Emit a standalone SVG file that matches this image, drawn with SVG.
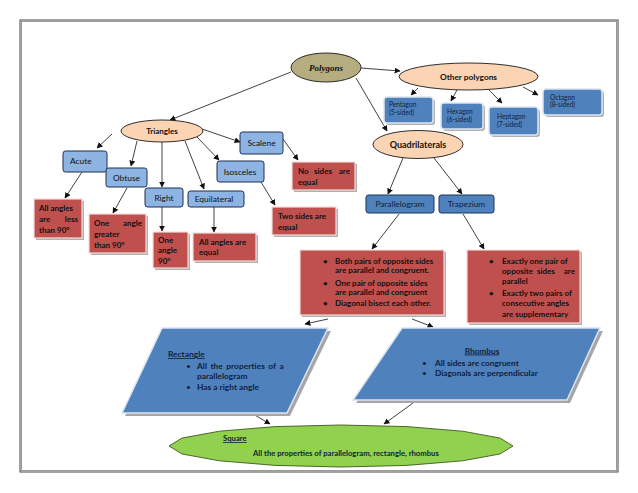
<svg xmlns="http://www.w3.org/2000/svg" width="638" height="493" viewBox="0 0 638 493">
<style>
.t{font-family:Lato,"Liberation Sans",sans-serif;fill:#111}
.b{font-weight:bold}
.lb{fill:#8db4e2;stroke:#1f2f4f;stroke-width:1}
.db{fill:#4f81bd;stroke:#17365d;stroke-width:1}
.pb{fill:#4f81bd;stroke:#dbe5f1;stroke-width:1.5}
.red{fill:#c0504d;stroke:#f2dcdb;stroke-width:1.2}
.sh{fill:#b0b0b0}
.peach{fill:#fbd4b4;stroke:#1a1a1a;stroke-width:0.9}
.sm{fill:#0f1f3a;font-size:6.6px}
.cn line{stroke:#111;stroke-width:0.8;marker-end:url(#ah)}
</style>
<defs>
<marker id="ah" viewBox="0 0 10 10" refX="9" refY="5" markerWidth="6" markerHeight="6" markerUnits="userSpaceOnUse" orient="auto">
<path d="M0,0 L10,5 L0,10 z" fill="#111"/>
</marker>
</defs>
<rect width="638" height="493" fill="#fff"/>
<rect x="20" y="20" width="598" height="452" fill="none" stroke="#444" stroke-width="1"/>
<rect x="21.5" y="21.5" width="595" height="449" fill="none" stroke="#999" stroke-width="1"/>

<g class="cn">
<line x1="361" y1="68" x2="400" y2="71"/>
<line x1="356" y1="78" x2="387" y2="131"/>
<line x1="291" y1="72" x2="170" y2="120"/>
<line x1="418" y1="88" x2="411" y2="95"/>
<line x1="457" y1="90" x2="451" y2="101"/>
<line x1="489" y1="90" x2="502" y2="103"/>
<line x1="523" y1="87" x2="538" y2="95"/>
<line x1="112" y1="134" x2="97" y2="148"/>
<line x1="137" y1="141" x2="131" y2="166"/>
<line x1="162" y1="142" x2="162" y2="187"/>
<line x1="185" y1="141" x2="204" y2="189"/>
<line x1="197" y1="137" x2="219" y2="160"/>
<line x1="202" y1="129" x2="240" y2="142"/>
<line x1="82" y1="172" x2="65" y2="198"/>
<line x1="127" y1="188" x2="113" y2="213"/>
<line x1="162" y1="207" x2="162" y2="231"/>
<line x1="214" y1="207" x2="214" y2="232"/>
<line x1="261" y1="182" x2="275" y2="205"/>
<line x1="283" y1="139" x2="298" y2="160"/>
<line x1="403" y1="158" x2="388" y2="194"/>
<line x1="434" y1="158" x2="462" y2="194"/>
<line x1="399" y1="214" x2="372" y2="249"/>
<line x1="463" y1="214" x2="484" y2="249"/>
<line x1="328" y1="319" x2="305" y2="324"/>
<line x1="412" y1="319" x2="433" y2="327"/>
<line x1="253" y1="414" x2="270" y2="424"/>
<line x1="413" y1="403" x2="384" y2="424"/>
</g>

<g id="polygons">
<ellipse cx="326" cy="67.5" rx="35" ry="14.5" fill="#b5ad7f" stroke="#1a1a1a" stroke-width="0.9"/>
<text x="326" y="70.5" text-anchor="middle" font-family="'Liberation Serif',serif" font-weight="bold" font-style="italic" font-size="9" fill="#111">Polygons</text>
</g>

<g id="other">
<ellipse class="peach" cx="468.5" cy="76.5" rx="69.5" ry="13.5"/>
<text class="t b" x="468.5" y="79.5" text-anchor="middle" font-size="8.3">Other polygons</text>
</g>

<g id="pentagon">
<rect class="sh" x="386" y="99" width="49" height="26" rx="3"/>
<rect class="pb" x="384" y="97" width="49" height="26" rx="3"/>
<text class="t sm" x="389" y="107">Pentagon<tspan x="389" dy="7.5">(5-sided)</tspan></text>
</g>
<g id="hexagon">
<rect class="sh" x="443" y="105" width="42" height="26" rx="3"/>
<rect class="pb" x="441" y="103" width="42" height="26" rx="3"/>
<text class="t sm" x="447" y="114">Hexagon<tspan x="447" dy="7.5">(6-sided)</tspan></text>
</g>
<g id="heptagon">
<rect class="sh" x="491" y="109" width="49" height="28" rx="3"/>
<rect class="pb" x="489" y="107" width="49" height="28" rx="3"/>
<text class="t sm" x="497" y="119">Heptagon<tspan x="497" dy="7.5">(7-sided)</tspan></text>
</g>
<g id="octagon">
<rect class="sh" x="545" y="91" width="59" height="26" rx="3"/>
<rect class="pb" x="543" y="89" width="59" height="26" rx="3"/>
<text class="t sm" x="550" y="100">Octagon<tspan x="550" dy="7">(8-sided)</tspan></text>
</g>

<g id="quadrilaterals">
<ellipse class="peach" cx="418" cy="144.5" rx="45" ry="14"/>
<text class="t b" x="418" y="147.5" text-anchor="middle" font-size="9">Quadrilaterals</text>
</g>

<g id="triangles">
<ellipse class="peach" cx="162" cy="131" rx="41" ry="11"/>
<text class="t b" x="162" y="134" text-anchor="middle" font-size="8">Triangles</text>
</g>

<g id="scalene">
<rect class="lb" x="240" y="132" width="43" height="22" rx="2.5"/>
<text class="t" x="261.5" y="146" text-anchor="middle" font-size="8.4">Scalene</text>
</g>
<g id="acute">
<rect class="lb" x="63" y="151" width="44" height="21" rx="2.5"/>
<text class="t" x="70" y="163.5" font-size="8.4">Acute</text>
</g>
<g id="obtuse">
<rect class="lb" x="106" y="168" width="41" height="19" rx="2.5"/>
<text class="t" x="126.5" y="180.5" text-anchor="middle" font-size="8.4">Obtuse</text>
</g>
<g id="right">
<rect class="lb" x="145" y="188" width="38" height="19" rx="2.5"/>
<text class="t" x="164" y="200.5" text-anchor="middle" font-size="8.4">Right</text>
</g>
<g id="equilateral">
<rect class="lb" x="188" y="191" width="56" height="16" rx="2.5"/>
<text class="t" x="214" y="202" text-anchor="middle" font-size="8.4">Equilateral</text>
</g>
<g id="isosceles">
<rect class="lb" x="217" y="161" width="47" height="21" rx="2.5"/>
<text class="t" x="240" y="174.5" text-anchor="middle" font-size="8.4">Isosceles</text>
</g>

<g id="acute-desc">
<rect class="sh" x="36" y="201" width="48" height="39"/>
<rect class="red" x="34" y="199" width="48" height="39"/>
<text class="t b" font-size="8"><tspan x="39" y="210.5">All angles</tspan><tspan x="39" y="221.5">are</tspan><tspan x="78" y="221.5" text-anchor="end">less</tspan><tspan x="39" y="232.5">than 90°</tspan></text>
</g>
<g id="obtuse-desc">
<rect class="sh" x="91" y="216" width="57" height="39"/>
<rect class="red" x="89" y="214" width="57" height="39"/>
<text class="t b" font-size="8"><tspan x="94" y="225.5">One</tspan><tspan x="142" y="225.5" text-anchor="end">angle</tspan><tspan x="94" y="236.5">greater</tspan><tspan x="94" y="247.5">than 90°</tspan></text>
</g>
<g id="right-desc">
<rect class="sh" x="155" y="234" width="35" height="36"/>
<rect class="red" x="153" y="232" width="35" height="36"/>
<text class="t b" font-size="8"><tspan x="158" y="242.5">One</tspan><tspan x="158" y="253">angle</tspan><tspan x="158" y="263.5">90°</tspan></text>
</g>
<g id="equilateral-desc">
<rect class="sh" x="195" y="235" width="63" height="28"/>
<rect class="red" x="193" y="233" width="63" height="28"/>
<text class="t b" font-size="8"><tspan x="199" y="244.5">All angles are</tspan><tspan x="199" y="255">equal</tspan></text>
</g>
<g id="isosceles-desc">
<rect class="sh" x="274" y="209" width="64" height="28"/>
<rect class="red" x="272" y="207" width="64" height="28"/>
<text class="t b" font-size="8"><tspan x="278" y="219">Two sides are</tspan><tspan x="278" y="229.5">equal</tspan></text>
</g>
<g id="scalene-desc">
<rect class="sh" x="294" y="164" width="63" height="28"/>
<rect class="red" x="292" y="162" width="63" height="28"/>
<text class="t b" font-size="8"><tspan x="298" y="173.5">No</tspan><tspan x="323" y="173.5" text-anchor="middle">sides</tspan><tspan x="350" y="173.5" text-anchor="end">are</tspan><tspan x="298" y="184.5">equal</tspan></text>
</g>

<g id="parallelogram">
<rect class="db" x="366" y="195" width="68" height="18" rx="2.5"/>
<text class="t" x="400" y="207" text-anchor="middle" font-size="8.3" style="fill:#0f1f3a">Parallelogram</text>
</g>
<g id="trapezium">
<rect class="db" x="439" y="195" width="55" height="18" rx="2.5"/>
<text class="t" x="466.5" y="207" text-anchor="middle" font-size="8.3" style="fill:#0f1f3a">Trapezium</text>
</g>

<g id="parallelogram-desc">
<rect class="sh" x="302" y="252" width="144" height="65"/>
<rect class="red" x="300" y="250" width="144" height="65"/>
<g class="t b" font-size="8">
<text x="323" y="263.5">•</text><text x="335" y="263.5">Both pairs of opposite sides</text>
<text x="335" y="273">are parallel and congruent.</text>
<text x="323" y="285.5">•</text><text x="335" y="285.5">One pair of opposite sides</text>
<text x="335" y="295">are parallel and congruent</text>
<text x="323" y="306">•</text><text x="335" y="306">Diagonal bisect each other.</text>
</g>
</g>
<g id="trapezium-desc">
<rect class="sh" x="469" y="252" width="113" height="73"/>
<rect class="red" x="467" y="250" width="113" height="73"/>
<g class="t b" font-size="8">
<text x="489" y="263.5">•</text><text x="502" y="263.5">Exactly one pair of</text>
<text x="502" y="273.5">opposite</text><text x="537" y="273.5">sides</text><text x="575" y="273.5" text-anchor="end">are</text>
<text x="502" y="283.5">parallel</text>
<text x="489" y="295.5">•</text><text x="502" y="295.5">Exactly two pairs of</text>
<text x="502" y="306">consecutive angles</text>
<text x="502" y="316.5">are supplementary</text>
</g>
</g>

<g id="rectangle">
<polygon points="165,331 331,331 290,416 125,416" fill="#a6a6a6"/>
<polygon points="162,328 328,328 287,413 122,413" fill="#4f81bd" stroke="#dbe5f1" stroke-width="1.5"/>
<g class="t" font-size="8.4" style="fill:#0f1f3a">
<text x="168" y="357" font-weight="bold" text-decoration="underline">Rectangle</text>
<text x="186" y="368.5">•</text><text x="197" y="368.5" font-weight="bold" word-spacing="1.5">All the properties of a</text>
<text x="197" y="379" font-weight="bold">parallelogram</text>
<text x="186" y="389.5">•</text><text x="197" y="389.5" font-weight="bold">Has a right angle</text>
</g>
</g>

<g id="rhombus">
<polygon points="405,331 603,331 570,403 356,403" fill="#a6a6a6"/>
<polygon points="402,328 600,328 567,400 353,400" fill="#4f81bd" stroke="#dbe5f1" stroke-width="1.5"/>
<g class="t" font-size="8.3" style="fill:#0f1f3a">
<text x="482" y="353.5" text-anchor="middle" font-weight="bold" text-decoration="underline">Rhombus</text>
<text x="422" y="365.5">•</text><text x="435" y="365.5" font-weight="bold">All sides are congruent</text>
<text x="422" y="376">•</text><text x="435" y="376" font-weight="bold">Diagonals are perpendicular</text>
</g>
</g>

<g id="square">
<polygon points="513,446 499.9,438 462.6,431.2 406.9,426.6 341,425 275.1,426.6 219.4,431.2 182.1,438 169,446 182.1,454 219.4,460.8 275.1,465.4 341,467 406.9,465.4 462.6,460.8 499.9,454" fill="#92d050" stroke="#3c5a1a" stroke-width="0.9"/>
<text class="t" x="223" y="441" font-size="7.7" font-weight="bold" text-decoration="underline" style="fill:#0f1f3a">Square</text>
<text class="t" x="253" y="456" font-size="7.7" font-weight="bold" style="fill:#0f1f3a">All the properties of parallelogram, rectangle, rhombus</text>
</g>
</svg>
